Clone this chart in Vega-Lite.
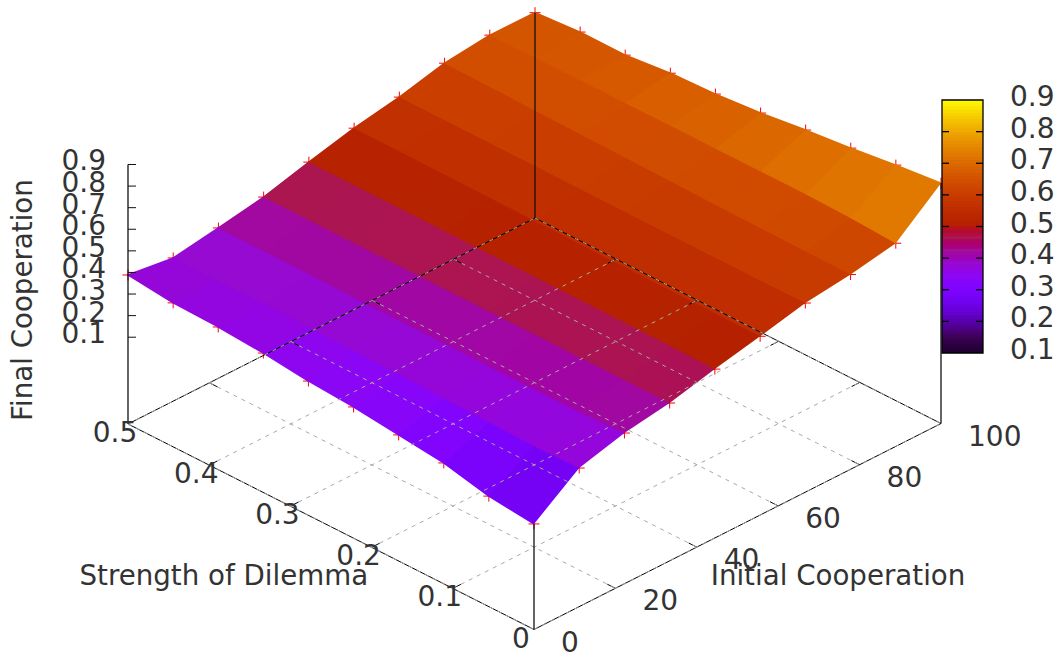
{"$schema":"https://vega.github.io/schema/vega-lite/v6.json","width":1059,"height":658,"padding":0,"autosize":{"type":"none"},"background":"white","config":{"view":{"stroke":null},"text":{"font":"DejaVu Sans"}},
"data":{"values":[
{"part":"surface","strength":0,"initial":0,"cooperation":0.187,"cell":[0],"corner":[0]},
{"part":"surface","strength":0.0556,"initial":0,"cooperation":0.21,"cell":[1,0],"corner":[0,1]},
{"part":"surface","strength":0.1111,"initial":0,"cooperation":0.258,"cell":[2,1],"corner":[0,1]},
{"part":"surface","strength":0.1667,"initial":0,"cooperation":0.282,"cell":[3,2],"corner":[0,1]},
{"part":"surface","strength":0.2222,"initial":0,"cooperation":0.306,"cell":[4,3],"corner":[0,1]},
{"part":"surface","strength":0.2778,"initial":0,"cooperation":0.32,"cell":[5,4],"corner":[0,1]},
{"part":"surface","strength":0.3333,"initial":0,"cooperation":0.344,"cell":[6,5],"corner":[0,1]},
{"part":"surface","strength":0.3889,"initial":0,"cooperation":0.359,"cell":[7,6],"corner":[0,1]},
{"part":"surface","strength":0.4444,"initial":0,"cooperation":0.365,"cell":[8,7],"corner":[0,1]},
{"part":"surface","strength":0.5,"initial":0,"cooperation":0.388,"cell":[8],"corner":[1]},
{"part":"surface","strength":0,"initial":11.11,"cooperation":0.34,"cell":[10,0],"corner":[0,3]},
{"part":"surface","strength":0.0556,"initial":11.11,"cooperation":0.335,"cell":[11,10,0,1],"corner":[0,1,2,3]},
{"part":"surface","strength":0.1111,"initial":11.11,"cooperation":0.34,"cell":[12,11,1,2],"corner":[0,1,2,3]},
{"part":"surface","strength":0.1667,"initial":11.11,"cooperation":0.345,"cell":[13,12,2,3],"corner":[0,1,2,3]},
{"part":"surface","strength":0.2222,"initial":11.11,"cooperation":0.35,"cell":[14,13,3,4],"corner":[0,1,2,3]},
{"part":"surface","strength":0.2778,"initial":11.11,"cooperation":0.355,"cell":[15,14,4,5],"corner":[0,1,2,3]},
{"part":"surface","strength":0.3333,"initial":11.11,"cooperation":0.358,"cell":[16,15,5,6],"corner":[0,1,2,3]},
{"part":"surface","strength":0.3889,"initial":11.11,"cooperation":0.36,"cell":[17,16,6,7],"corner":[0,1,2,3]},
{"part":"surface","strength":0.4444,"initial":11.11,"cooperation":0.36,"cell":[18,17,7,8],"corner":[0,1,2,3]},
{"part":"surface","strength":0.5,"initial":11.11,"cooperation":0.361,"cell":[18,8],"corner":[1,2]},
{"part":"surface","strength":0,"initial":22.22,"cooperation":0.396,"cell":[20,10],"corner":[0,3]},
{"part":"surface","strength":0.0556,"initial":22.22,"cooperation":0.388,"cell":[21,20,10,11],"corner":[0,1,2,3]},
{"part":"surface","strength":0.1111,"initial":22.22,"cooperation":0.387,"cell":[22,21,11,12],"corner":[0,1,2,3]},
{"part":"surface","strength":0.1667,"initial":22.22,"cooperation":0.388,"cell":[23,22,12,13],"corner":[0,1,2,3]},
{"part":"surface","strength":0.2222,"initial":22.22,"cooperation":0.389,"cell":[24,23,13,14],"corner":[0,1,2,3]},
{"part":"surface","strength":0.2778,"initial":22.22,"cooperation":0.39,"cell":[25,24,14,15],"corner":[0,1,2,3]},
{"part":"surface","strength":0.3333,"initial":22.22,"cooperation":0.39,"cell":[26,25,15,16],"corner":[0,1,2,3]},
{"part":"surface","strength":0.3889,"initial":22.22,"cooperation":0.392,"cell":[27,26,16,17],"corner":[0,1,2,3]},
{"part":"surface","strength":0.4444,"initial":22.22,"cooperation":0.393,"cell":[28,27,17,18],"corner":[0,1,2,3]},
{"part":"surface","strength":0.5,"initial":22.22,"cooperation":0.394,"cell":[28,18],"corner":[1,2]},
{"part":"surface","strength":0,"initial":33.33,"cooperation":0.429,"cell":[30,20],"corner":[0,3]},
{"part":"surface","strength":0.0556,"initial":33.33,"cooperation":0.43,"cell":[31,30,20,21],"corner":[0,1,2,3]},
{"part":"surface","strength":0.1111,"initial":33.33,"cooperation":0.43,"cell":[32,31,21,22],"corner":[0,1,2,3]},
{"part":"surface","strength":0.1667,"initial":33.33,"cooperation":0.43,"cell":[33,32,22,23],"corner":[0,1,2,3]},
{"part":"surface","strength":0.2222,"initial":33.33,"cooperation":0.43,"cell":[34,33,23,24],"corner":[0,1,2,3]},
{"part":"surface","strength":0.2778,"initial":33.33,"cooperation":0.43,"cell":[35,34,24,25],"corner":[0,1,2,3]},
{"part":"surface","strength":0.3333,"initial":33.33,"cooperation":0.43,"cell":[36,35,25,26],"corner":[0,1,2,3]},
{"part":"surface","strength":0.3889,"initial":33.33,"cooperation":0.43,"cell":[37,36,26,27],"corner":[0,1,2,3]},
{"part":"surface","strength":0.4444,"initial":33.33,"cooperation":0.431,"cell":[38,37,27,28],"corner":[0,1,2,3]},
{"part":"surface","strength":0.5,"initial":33.33,"cooperation":0.431,"cell":[38,28],"corner":[1,2]},
{"part":"surface","strength":0,"initial":44.44,"cooperation":0.48,"cell":[40,30],"corner":[0,3]},
{"part":"surface","strength":0.0556,"initial":44.44,"cooperation":0.484,"cell":[41,40,30,31],"corner":[0,1,2,3]},
{"part":"surface","strength":0.1111,"initial":44.44,"cooperation":0.485,"cell":[42,41,31,32],"corner":[0,1,2,3]},
{"part":"surface","strength":0.1667,"initial":44.44,"cooperation":0.485,"cell":[43,42,32,33],"corner":[0,1,2,3]},
{"part":"surface","strength":0.2222,"initial":44.44,"cooperation":0.486,"cell":[44,43,33,34],"corner":[0,1,2,3]},
{"part":"surface","strength":0.2778,"initial":44.44,"cooperation":0.486,"cell":[45,44,34,35],"corner":[0,1,2,3]},
{"part":"surface","strength":0.3333,"initial":44.44,"cooperation":0.486,"cell":[46,45,35,36],"corner":[0,1,2,3]},
{"part":"surface","strength":0.3889,"initial":44.44,"cooperation":0.487,"cell":[47,46,36,37],"corner":[0,1,2,3]},
{"part":"surface","strength":0.4444,"initial":44.44,"cooperation":0.487,"cell":[48,47,37,38],"corner":[0,1,2,3]},
{"part":"surface","strength":0.5,"initial":44.44,"cooperation":0.487,"cell":[48,38],"corner":[1,2]},
{"part":"surface","strength":0,"initial":55.56,"cooperation":0.526,"cell":[50,40],"corner":[0,3]},
{"part":"surface","strength":0.0556,"initial":55.56,"cooperation":0.527,"cell":[51,50,40,41],"corner":[0,1,2,3]},
{"part":"surface","strength":0.1111,"initial":55.56,"cooperation":0.528,"cell":[52,51,41,42],"corner":[0,1,2,3]},
{"part":"surface","strength":0.1667,"initial":55.56,"cooperation":0.529,"cell":[53,52,42,43],"corner":[0,1,2,3]},
{"part":"surface","strength":0.2222,"initial":55.56,"cooperation":0.53,"cell":[54,53,43,44],"corner":[0,1,2,3]},
{"part":"surface","strength":0.2778,"initial":55.56,"cooperation":0.532,"cell":[55,54,44,45],"corner":[0,1,2,3]},
{"part":"surface","strength":0.3333,"initial":55.56,"cooperation":0.534,"cell":[56,55,45,46],"corner":[0,1,2,3]},
{"part":"surface","strength":0.3889,"initial":55.56,"cooperation":0.535,"cell":[57,56,46,47],"corner":[0,1,2,3]},
{"part":"surface","strength":0.4444,"initial":55.56,"cooperation":0.537,"cell":[58,57,47,48],"corner":[0,1,2,3]},
{"part":"surface","strength":0.5,"initial":55.56,"cooperation":0.538,"cell":[58,48],"corner":[1,2]},
{"part":"surface","strength":0,"initial":66.67,"cooperation":0.574,"cell":[60,50],"corner":[0,3]},
{"part":"surface","strength":0.0556,"initial":66.67,"cooperation":0.573,"cell":[61,60,50,51],"corner":[0,1,2,3]},
{"part":"surface","strength":0.1111,"initial":66.67,"cooperation":0.573,"cell":[62,61,51,52],"corner":[0,1,2,3]},
{"part":"surface","strength":0.1667,"initial":66.67,"cooperation":0.573,"cell":[63,62,52,53],"corner":[0,1,2,3]},
{"part":"surface","strength":0.2222,"initial":66.67,"cooperation":0.574,"cell":[64,63,53,54],"corner":[0,1,2,3]},
{"part":"surface","strength":0.2778,"initial":66.67,"cooperation":0.574,"cell":[65,64,54,55],"corner":[0,1,2,3]},
{"part":"surface","strength":0.3333,"initial":66.67,"cooperation":0.575,"cell":[66,65,55,56],"corner":[0,1,2,3]},
{"part":"surface","strength":0.3889,"initial":66.67,"cooperation":0.575,"cell":[67,66,56,57],"corner":[0,1,2,3]},
{"part":"surface","strength":0.4444,"initial":66.67,"cooperation":0.576,"cell":[68,67,57,58],"corner":[0,1,2,3]},
{"part":"surface","strength":0.5,"initial":66.67,"cooperation":0.576,"cell":[68,58],"corner":[1,2]},
{"part":"surface","strength":0,"initial":77.78,"cooperation":0.6,"cell":[70,60],"corner":[0,3]},
{"part":"surface","strength":0.0556,"initial":77.78,"cooperation":0.602,"cell":[71,70,60,61],"corner":[0,1,2,3]},
{"part":"surface","strength":0.1111,"initial":77.78,"cooperation":0.604,"cell":[72,71,61,62],"corner":[0,1,2,3]},
{"part":"surface","strength":0.1667,"initial":77.78,"cooperation":0.606,"cell":[73,72,62,63],"corner":[0,1,2,3]},
{"part":"surface","strength":0.2222,"initial":77.78,"cooperation":0.61,"cell":[74,73,63,64],"corner":[0,1,2,3]},
{"part":"surface","strength":0.2778,"initial":77.78,"cooperation":0.613,"cell":[75,74,64,65],"corner":[0,1,2,3]},
{"part":"surface","strength":0.3333,"initial":77.78,"cooperation":0.616,"cell":[76,75,65,66],"corner":[0,1,2,3]},
{"part":"surface","strength":0.3889,"initial":77.78,"cooperation":0.62,"cell":[77,76,66,67],"corner":[0,1,2,3]},
{"part":"surface","strength":0.4444,"initial":77.78,"cooperation":0.624,"cell":[78,77,67,68],"corner":[0,1,2,3]},
{"part":"surface","strength":0.5,"initial":77.78,"cooperation":0.627,"cell":[78,68],"corner":[1,2]},
{"part":"surface","strength":0,"initial":88.89,"cooperation":0.639,"cell":[80,70],"corner":[0,3]},
{"part":"surface","strength":0.0556,"initial":88.89,"cooperation":0.65,"cell":[81,80,70,71],"corner":[0,1,2,3]},
{"part":"surface","strength":0.1111,"initial":88.89,"cooperation":0.655,"cell":[82,81,71,72],"corner":[0,1,2,3]},
{"part":"surface","strength":0.1667,"initial":88.89,"cooperation":0.655,"cell":[83,82,72,73],"corner":[0,1,2,3]},
{"part":"surface","strength":0.2222,"initial":88.89,"cooperation":0.655,"cell":[84,83,73,74],"corner":[0,1,2,3]},
{"part":"surface","strength":0.2778,"initial":88.89,"cooperation":0.655,"cell":[85,84,74,75],"corner":[0,1,2,3]},
{"part":"surface","strength":0.3333,"initial":88.89,"cooperation":0.654,"cell":[86,85,75,76],"corner":[0,1,2,3]},
{"part":"surface","strength":0.3889,"initial":88.89,"cooperation":0.653,"cell":[87,86,76,77],"corner":[0,1,2,3]},
{"part":"surface","strength":0.4444,"initial":88.89,"cooperation":0.652,"cell":[88,87,77,78],"corner":[0,1,2,3]},
{"part":"surface","strength":0.5,"initial":88.89,"cooperation":0.651,"cell":[88,78],"corner":[1,2]},
{"part":"surface","strength":0,"initial":100,"cooperation":0.811,"cell":[80],"corner":[3]},
{"part":"surface","strength":0.0556,"initial":100,"cooperation":0.789,"cell":[80,81],"corner":[2,3]},
{"part":"surface","strength":0.1111,"initial":100,"cooperation":0.762,"cell":[81,82],"corner":[2,3]},
{"part":"surface","strength":0.1667,"initial":100,"cooperation":0.74,"cell":[82,83],"corner":[2,3]},
{"part":"surface","strength":0.2222,"initial":100,"cooperation":0.713,"cell":[83,84],"corner":[2,3]},
{"part":"surface","strength":0.2778,"initial":100,"cooperation":0.695,"cell":[84,85],"corner":[2,3]},
{"part":"surface","strength":0.3333,"initial":100,"cooperation":0.686,"cell":[85,86],"corner":[2,3]},
{"part":"surface","strength":0.3889,"initial":100,"cooperation":0.664,"cell":[86,87],"corner":[2,3]},
{"part":"surface","strength":0.4444,"initial":100,"cooperation":0.665,"cell":[87,88],"corner":[2,3]},
{"part":"surface","strength":0.5,"initial":100,"cooperation":0.649,"cell":[88],"corner":[2]},
{"part":"border","line":"a","strength":0,"initial":0,"cooperation":-0.302},
{"part":"border","line":"a","strength":0.5,"initial":0,"cooperation":-0.302},
{"part":"border","line":"b","strength":0,"initial":0,"cooperation":-0.302},
{"part":"border","line":"b","strength":0,"initial":100,"cooperation":-0.302},
{"part":"border","line":"c","strength":0.5,"initial":0,"cooperation":-0.302},
{"part":"border","line":"c","strength":0.5,"initial":100,"cooperation":-0.302},
{"part":"border","line":"d","strength":0,"initial":100,"cooperation":-0.302},
{"part":"border","line":"d","strength":0.5,"initial":100,"cooperation":-0.302},
{"part":"corner","line":"e","strength":0.5,"initial":0,"cooperation":-0.302},
{"part":"corner","line":"e","strength":0.5,"initial":0,"cooperation":0.9},
{"part":"corner","line":"f","strength":0,"initial":0,"cooperation":-0.302},
{"part":"corner","line":"f","strength":0,"initial":0,"cooperation":0.187},
{"part":"corner","line":"g","strength":0.5,"initial":100,"cooperation":-0.302},
{"part":"corner","line":"g","strength":0.5,"initial":100,"cooperation":0.649},
{"part":"corner","line":"h","strength":0,"initial":100,"cooperation":-0.302},
{"part":"corner","line":"h","strength":0,"initial":100,"cooperation":0.811},
{"part":"grid","line":"s1","strength":0.1,"initial":0,"cooperation":-0.302},
{"part":"grid","line":"s1","strength":0.1,"initial":100,"cooperation":-0.302},
{"part":"grid","line":"s2","strength":0.2,"initial":0,"cooperation":-0.302},
{"part":"grid","line":"s2","strength":0.2,"initial":100,"cooperation":-0.302},
{"part":"grid","line":"s3","strength":0.3,"initial":0,"cooperation":-0.302},
{"part":"grid","line":"s3","strength":0.3,"initial":100,"cooperation":-0.302},
{"part":"grid","line":"s4","strength":0.4,"initial":0,"cooperation":-0.302},
{"part":"grid","line":"s4","strength":0.4,"initial":100,"cooperation":-0.302},
{"part":"grid","line":"i1","strength":0,"initial":20,"cooperation":-0.302},
{"part":"grid","line":"i1","strength":0.5,"initial":20,"cooperation":-0.302},
{"part":"grid","line":"i2","strength":0,"initial":40,"cooperation":-0.302},
{"part":"grid","line":"i2","strength":0.5,"initial":40,"cooperation":-0.302},
{"part":"grid","line":"i3","strength":0,"initial":60,"cooperation":-0.302},
{"part":"grid","line":"i3","strength":0.5,"initial":60,"cooperation":-0.302},
{"part":"grid","line":"i4","strength":0,"initial":80,"cooperation":-0.302},
{"part":"grid","line":"i4","strength":0.5,"initial":80,"cooperation":-0.302},
{"part":"tick","line":"ts1a","strength":0.1,"initial":0,"cooperation":-0.302},
{"part":"tick","line":"ts1a","strength":0.1,"initial":2,"cooperation":-0.302},
{"part":"tick","line":"ts1b","strength":0.1,"initial":100,"cooperation":-0.302},
{"part":"tick","line":"ts1b","strength":0.1,"initial":98,"cooperation":-0.302},
{"part":"tick","line":"ts2a","strength":0.2,"initial":0,"cooperation":-0.302},
{"part":"tick","line":"ts2a","strength":0.2,"initial":2,"cooperation":-0.302},
{"part":"tick","line":"ts2b","strength":0.2,"initial":100,"cooperation":-0.302},
{"part":"tick","line":"ts2b","strength":0.2,"initial":98,"cooperation":-0.302},
{"part":"tick","line":"ts3a","strength":0.3,"initial":0,"cooperation":-0.302},
{"part":"tick","line":"ts3a","strength":0.3,"initial":2,"cooperation":-0.302},
{"part":"tick","line":"ts3b","strength":0.3,"initial":100,"cooperation":-0.302},
{"part":"tick","line":"ts3b","strength":0.3,"initial":98,"cooperation":-0.302},
{"part":"tick","line":"ts4a","strength":0.4,"initial":0,"cooperation":-0.302},
{"part":"tick","line":"ts4a","strength":0.4,"initial":2,"cooperation":-0.302},
{"part":"tick","line":"ts4b","strength":0.4,"initial":100,"cooperation":-0.302},
{"part":"tick","line":"ts4b","strength":0.4,"initial":98,"cooperation":-0.302},
{"part":"tick","line":"ti1a","strength":0,"initial":20,"cooperation":-0.302},
{"part":"tick","line":"ti1a","strength":0.01,"initial":20,"cooperation":-0.302},
{"part":"tick","line":"ti1b","strength":0.5,"initial":20,"cooperation":-0.302},
{"part":"tick","line":"ti1b","strength":0.49,"initial":20,"cooperation":-0.302},
{"part":"tick","line":"ti2a","strength":0,"initial":40,"cooperation":-0.302},
{"part":"tick","line":"ti2a","strength":0.01,"initial":40,"cooperation":-0.302},
{"part":"tick","line":"ti2b","strength":0.5,"initial":40,"cooperation":-0.302},
{"part":"tick","line":"ti2b","strength":0.49,"initial":40,"cooperation":-0.302},
{"part":"tick","line":"ti3a","strength":0,"initial":60,"cooperation":-0.302},
{"part":"tick","line":"ti3a","strength":0.01,"initial":60,"cooperation":-0.302},
{"part":"tick","line":"ti3b","strength":0.5,"initial":60,"cooperation":-0.302},
{"part":"tick","line":"ti3b","strength":0.49,"initial":60,"cooperation":-0.302},
{"part":"tick","line":"ti4a","strength":0,"initial":80,"cooperation":-0.302},
{"part":"tick","line":"ti4a","strength":0.01,"initial":80,"cooperation":-0.302},
{"part":"tick","line":"ti4b","strength":0.5,"initial":80,"cooperation":-0.302},
{"part":"tick","line":"ti4b","strength":0.49,"initial":80,"cooperation":-0.302},
{"part":"slabel","label":"0","strength":0,"initial":0,"cooperation":-0.302},
{"part":"slabel","label":"0.1","strength":0.1,"initial":0,"cooperation":-0.302},
{"part":"slabel","label":"0.2","strength":0.2,"initial":0,"cooperation":-0.302},
{"part":"slabel","label":"0.3","strength":0.3,"initial":0,"cooperation":-0.302},
{"part":"slabel","label":"0.4","strength":0.4,"initial":0,"cooperation":-0.302},
{"part":"slabel","label":"0.5","strength":0.5,"initial":0,"cooperation":-0.302},
{"part":"ilabel","label":"0","strength":0,"initial":0,"cooperation":-0.302},
{"part":"ilabel","label":"20","strength":0,"initial":20,"cooperation":-0.302},
{"part":"ilabel","label":"40","strength":0,"initial":40,"cooperation":-0.302},
{"part":"ilabel","label":"60","strength":0,"initial":60,"cooperation":-0.302},
{"part":"ilabel","label":"80","strength":0,"initial":80,"cooperation":-0.302},
{"part":"ilabel","label":"100","strength":0,"initial":100,"cooperation":-0.302},
{"part":"zlabel","label":"0.1","strength":0.5,"initial":0,"cooperation":0.1},
{"part":"zlabel","label":"0.2","strength":0.5,"initial":0,"cooperation":0.2},
{"part":"zlabel","label":"0.3","strength":0.5,"initial":0,"cooperation":0.3},
{"part":"zlabel","label":"0.4","strength":0.5,"initial":0,"cooperation":0.4},
{"part":"zlabel","label":"0.5","strength":0.5,"initial":0,"cooperation":0.5},
{"part":"zlabel","label":"0.6","strength":0.5,"initial":0,"cooperation":0.6},
{"part":"zlabel","label":"0.7","strength":0.5,"initial":0,"cooperation":0.7},
{"part":"zlabel","label":"0.8","strength":0.5,"initial":0,"cooperation":0.8},
{"part":"zlabel","label":"0.9","strength":0.5,"initial":0,"cooperation":0.9},
{"part":"title","label":"Strength of Dilemma","strength":0.382,"initial":0,"cooperation":-0.786},
{"part":"title","label":"Initial Cooperation","strength":0,"initial":74.7,"cooperation":-0.771},
{"part":"ztitle","label":"Final Cooperation","strength":0.628,"initial":0,"cooperation":0.0284}
]},
"transform":[
{"calculate":"534 - 812*datum.strength + 4.07*datum.initial","as":"px"},
{"calculate":"564.3 - 411*datum.strength - 2.06*datum.initial - 215.9*datum.cooperation","as":"py"}
],
"encoding":{
"x":{"field":"px","type":"quantitative","axis":null,"scale":{"domain":[0,1059],"nice":false,"zero":false}},
"y":{"field":"py","type":"quantitative","axis":null,"scale":{"domain":[0,658],"reverse":true,"nice":false,"zero":false}}
},
"layer":[
{"transform":[{"filter":"datum.part=='surface'"}],
 "mark":{"type":"point","shape":"M-1,0H1M0,-1V1","size":121,"filled":false,"stroke":"#ff0000","strokeWidth":1,"opacity":1}},
{"transform":[{"filter":"datum.part=='surface'"},{"flatten":["cell","corner"]},{"joinaggregate":[{"op":"mean","field":"cooperation","as":"shade"}],"groupby":["cell"]}],
 "mark":{"type":"line","strokeWidth":1.5,"interpolate":"linear"},
 "encoding":{
  "detail":{"field":"cell","type":"nominal"},
  "order":{"field":"corner","type":"quantitative"},
  "stroke":{"field":"shade","type":"quantitative","legend":null,"scale":{"domain":[0.1001,0.14,0.18,0.22,0.26,0.3,0.34,0.38,0.42,0.46,0.5,0.54,0.58,0.62,0.66,0.7,0.74,0.78,0.82,0.86,0.9],"range":["#000000","#39004f","#510096","#6301ce","#7202f3","#8004ff","#8c07f3","#970bce","#a11096","#ab174f","#b42000","#bd2a00","#c63700","#ce4600","#d55700","#dd6c00","#e48300","#eb9d00","#f2ba00","#f9db00","#ffff00"]}}
 }},
{"transform":[{"filter":"datum.part=='surface'"},{"flatten":["cell","corner"]},{"joinaggregate":[{"op":"mean","field":"cooperation","as":"shade"}],"groupby":["cell"]}],
 "mark":{"type":"line","strokeWidth":0,"interpolate":"linear"},
 "encoding":{
  "detail":{"field":"cell","type":"nominal"},
  "order":{"field":"corner","type":"quantitative"},
  "fill":{"field":"shade","type":"quantitative","legend":null,"scale":{"domain":[0.1,0.14,0.18,0.22,0.26,0.3,0.34,0.38,0.42,0.46,0.5,0.54,0.58,0.62,0.66,0.7,0.74,0.78,0.82,0.86,0.9],"range":["#000000","#39004f","#510096","#6301ce","#7202f3","#8004ff","#8c07f3","#970bce","#a11096","#ab174f","#b42000","#bd2a00","#c63700","#ce4600","#d55700","#dd6c00","#e48300","#eb9d00","#f2ba00","#f9db00","#ffff00"]}}
 }},
{"transform":[{"filter":"datum.part=='border'||datum.part=='tick'"}],
 "mark":{"type":"line","stroke":"#000000","strokeWidth":1},
 "encoding":{"detail":{"field":"line","type":"nominal"}}},
{"transform":[{"filter":"datum.part=='border'||datum.part=='grid'"}],
 "mark":{"type":"line","stroke":"#a8a8a8","strokeWidth":1,"strokeDash":[4,5]},
 "encoding":{"detail":{"field":"line","type":"nominal"}}},
{"transform":[{"filter":"datum.part=='corner'"}],
 "mark":{"type":"line","stroke":"#111111","strokeWidth":1.3},
 "encoding":{"detail":{"field":"line","type":"nominal"}}},
{"transform":[{"filter":"datum.part=='zlabel'"}],
 "mark":{"type":"point","shape":"M0,0H2","size":64,"filled":false,"stroke":"#111111","strokeWidth":1,"opacity":1}},
{"transform":[{"filter":"datum.part=='slabel'"}],
 "mark":{"type":"text","fontSize":28,"align":"center","baseline":"middle","dx":-13,"dy":10,"color":"#333333"},
 "encoding":{"text":{"field":"label"}}},
{"transform":[{"filter":"datum.part=='ilabel'"}],
 "mark":{"type":"text","fontSize":28,"align":"left","baseline":"middle","dx":27,"dy":14,"color":"#333333"},
 "encoding":{"text":{"field":"label"}}},
{"transform":[{"filter":"datum.part=='zlabel'"}],
 "mark":{"type":"text","fontSize":28,"align":"right","baseline":"middle","dx":-22,"dy":-2,"color":"#333333"},
 "encoding":{"text":{"field":"label"}}},
{"transform":[{"filter":"datum.part=='title'"}],
 "mark":{"type":"text","fontSize":27.7,"align":"center","baseline":"middle","color":"#333333"},
 "encoding":{"text":{"field":"label"}}},
{"transform":[{"filter":"datum.part=='ztitle'"}],
 "mark":{"type":"text","fontSize":27.7,"align":"center","baseline":"middle","angle":270,"color":"#333333"},
 "encoding":{"text":{"field":"label"}}},
{"data":{"values":[{"level":0.1},{"level":0.11},{"level":0.12},{"level":0.13},{"level":0.14},{"level":0.15},{"level":0.16},{"level":0.17},{"level":0.18},{"level":0.19},{"level":0.2},{"level":0.21},{"level":0.22},{"level":0.23},{"level":0.24},{"level":0.25},{"level":0.26},{"level":0.27},{"level":0.28},{"level":0.29},{"level":0.3},{"level":0.31},{"level":0.32},{"level":0.33},{"level":0.34},{"level":0.35},{"level":0.36},{"level":0.37},{"level":0.38},{"level":0.39},{"level":0.4},{"level":0.41},{"level":0.42},{"level":0.43},{"level":0.44},{"level":0.45},{"level":0.46},{"level":0.47},{"level":0.48},{"level":0.49},{"level":0.5},{"level":0.51},{"level":0.52},{"level":0.53},{"level":0.54},{"level":0.55},{"level":0.56},{"level":0.57},{"level":0.58},{"level":0.59},{"level":0.6},{"level":0.61},{"level":0.62},{"level":0.63},{"level":0.64},{"level":0.65},{"level":0.66},{"level":0.67},{"level":0.68},{"level":0.69},{"level":0.7},{"level":0.71},{"level":0.72},{"level":0.73},{"level":0.74},{"level":0.75},{"level":0.76},{"level":0.77},{"level":0.78},{"level":0.79},{"level":0.8},{"level":0.81},{"level":0.82},{"level":0.83},{"level":0.84},{"level":0.85},{"level":0.86},{"level":0.87},{"level":0.88},{"level":0.89}]},
 "transform":[
 {"calculate":"942","as":"px"},
 {"calculate":"983","as":"px2"},
 {"calculate":"353-316.25*(datum.level-0.1)","as":"py"},
 {"calculate":"max(100,datum.py-4.2)","as":"py2"}],
 "mark":{"type":"rect","stroke":null},
 "encoding":{"x2":{"field":"px2"},"y2":{"field":"py2"},"fill":{"field":"level","type":"quantitative","legend":null}}},
{"data":{"values":[{"level":0.2,"side":0},{"level":0.2,"side":1},{"level":0.3,"side":0},{"level":0.3,"side":1},{"level":0.4,"side":0},{"level":0.4,"side":1},{"level":0.5,"side":0},{"level":0.5,"side":1},{"level":0.6,"side":0},{"level":0.6,"side":1},{"level":0.7,"side":0},{"level":0.7,"side":1},{"level":0.8,"side":0},{"level":0.8,"side":1}]},
 "transform":[
 {"calculate":"datum.side==0?942:976","as":"px"},
 {"calculate":"datum.px+7","as":"px2"},
 {"calculate":"353-316.25*(datum.level-0.1)","as":"py"}],
 "mark":{"type":"rule","stroke":"#000000","strokeWidth":1.3},
 "encoding":{"x2":{"field":"px2"}}},
{"data":{"values":[{"low":0.1,"high":0.9}]},
 "transform":[
 {"calculate":"942","as":"px"},
 {"calculate":"983","as":"px2"},
 {"calculate":"353-316.25*(datum.low-0.1)","as":"py"},
 {"calculate":"353-316.25*(datum.high-0.1)","as":"py2"}],
 "mark":{"type":"rect","fill":null,"stroke":"#000000","strokeWidth":1.3},
 "encoding":{"x2":{"field":"px2"},"y2":{"field":"py2"}}},
{"data":{"values":[{"level":0.1,"label":"0.1"},{"level":0.2,"label":"0.2"},{"level":0.3,"label":"0.3"},{"level":0.4,"label":"0.4"},{"level":0.5,"label":"0.5"},{"level":0.6,"label":"0.6"},{"level":0.7,"label":"0.7"},{"level":0.8,"label":"0.8"},{"level":0.9,"label":"0.9"}]},
 "transform":[
 {"calculate":"1010","as":"px"},
 {"calculate":"351-316.25*(datum.level-0.1)","as":"py"}],
 "mark":{"type":"text","fontSize":28,"align":"left","baseline":"middle","color":"#333333"},
 "encoding":{"text":{"field":"label"}}}
]}
